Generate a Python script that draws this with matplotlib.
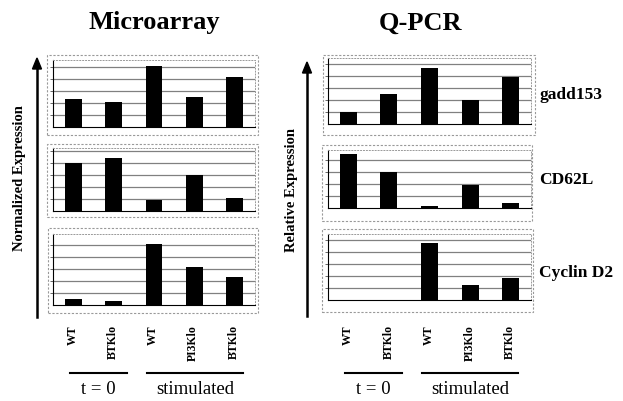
import numpy as np
import matplotlib
matplotlib.use("Agg")
import matplotlib.pyplot as plt
from matplotlib.patches import Rectangle

plt.rcParams['font.family'] = ['Liberation Serif', 'DejaVu Serif']

W, H = 623, 401

# data (bar heights, arbitrary units)
samples = ['WT', 'BTKlo', 'WT', 'PI3Klo', 'BTKlo']
genes = ['gadd153', 'CD62L', 'Cyclin D2']
micro_gadd153 = [28, 25, 61, 30, 50]
micro_cd62l = [48, 53, 11, 36, 13]
micro_cyclin = [6, 4, 61, 38, 28]
qpcr_gadd153 = [12, 30, 56, 24, 47]
qpcr_cd62l = [54, 36, 2, 23, 5]
qpcr_cyclin = [0, 0.5, 57, 15, 22]
micro_ymax = [67, 63, 71]
qpcr_ymax = [66, 58, 66]

fig = plt.figure(figsize=(W / 100, H / 100), dpi=100)


def fx(px):
    return px / W


def fy(py):
    return 1 - py / H


def add_panel(x0, x1, top, base, frame, vals, ymax):
    ax = fig.add_axes([fx(x0), fy(base), fx(x1 - x0), (base - top) / H])
    ax.set_xlim(-0.5, 4.5)
    ax.set_ylim(0, ymax)
    ax.set_yticks(np.arange(12, ymax - 2, 12))
    ax.yaxis.grid(True, color='0.5', lw=0.9)
    ax.set_axisbelow(True)
    ax.bar(range(len(vals)), vals, width=0.42, color='black', zorder=3)
    ax.set_xticks([])
    ax.tick_params(axis='y', labelleft=False, length=2.5, width=0.6, color='0.3')
    for s in ['top', 'right']:
        ax.spines[s].set_color('0.6')
        ax.spines[s].set_linestyle((0, (1, 2)))
        ax.spines[s].set_linewidth(0.7)
    ax.spines['left'].set_linewidth(0.8)
    ax.spines['bottom'].set_linewidth(0.8)
    # outer frame
    fx0, fx1, fy0, fy1 = frame
    fig.patches.append(Rectangle((fx(fx0), fy(fy1)), fx(fx1 - fx0), (fy1 - fy0) / H,
                                 transform=fig.transFigure, fill=False,
                                 ec='0.6', lw=0.8, ls=(0, (2, 1.5))))
    return ax


micro = [micro_gadd153, micro_cd62l, micro_cyclin]
qpcr = [qpcr_gadd153, qpcr_cd62l, qpcr_cyclin]

m_rows = [(60, 127), (148, 211), (234, 305)]
m_frames = [(47, 258, 55, 135), (47, 258, 144, 217), (48, 258, 228, 313)]
q_rows = [(58, 124), (150, 208), (234, 300)]
q_frames = [(323, 535, 55, 135), (322, 532, 145, 221), (322, 533, 229, 312)]

for i in range(3):
    add_panel(53, 255, m_rows[i][0], m_rows[i][1], m_frames[i], micro[i], micro_ymax[i])
    add_panel(328, 531, q_rows[i][0], q_rows[i][1], q_frames[i], qpcr[i], qpcr_ymax[i])

# gene names
for g, yp in zip(genes, [95, 180, 273]):
    fig.text(fx(539), fy(yp), g, ha='left', va='center', fontsize=12.5, fontweight='bold')

# titles
fig.text(fx(154), fy(23), 'Microarray', ha='center', va='center', fontsize=19, fontweight='bold')
fig.text(fx(420), fy(23), 'Q-PCR', ha='center', va='center', fontsize=19, fontweight='bold')

# y arrows and labels
for xa, ytop, ybot in [(37, 58, 317), (307, 62, 316)]:
    fig.add_artist(plt.Line2D([fx(xa), fx(xa)], [fy(ybot), fy(ytop + 8)], color='black', lw=1.8))
    fig.add_artist(plt.Polygon([[fx(xa - 4.5), fy(ytop + 11)], [fx(xa + 4.5), fy(ytop + 11)],
                                [fx(xa), fy(ytop)]], closed=True, color='black'))
fig.text(fx(20), fy(178), 'Normalized Expression', rotation=90, ha='center', va='center',
         fontsize=10.5, fontweight='bold')
fig.text(fx(291), fy(190), 'Relative Expression', rotation=90, ha='center', va='center',
         fontsize=10.5, fontweight='bold')

# sample labels
m_centers = [73, 113, 153, 193, 234]
q_centers = [348, 389, 429, 470, 510]
for centers in [m_centers, q_centers]:
    for c, s in zip(centers, samples):
        fig.text(fx(c), fy(325), s, rotation=90, ha='center', va='top', fontsize=8.5, fontweight='bold')

# group brackets
groups = [('t = 0', 70, 127), ('stimulated', 147, 243), ('t = 0', 345, 402), ('stimulated', 422, 518)]
for name, a, b in groups:
    fig.add_artist(plt.Line2D([fx(a), fx(b)], [fy(373), fy(373)], color='black', lw=1.5))
    fig.text(fx((a + b) / 2), fy(390), name, ha='center', va='center', fontsize=13.5)

fig.savefig('out.png', dpi=100)
